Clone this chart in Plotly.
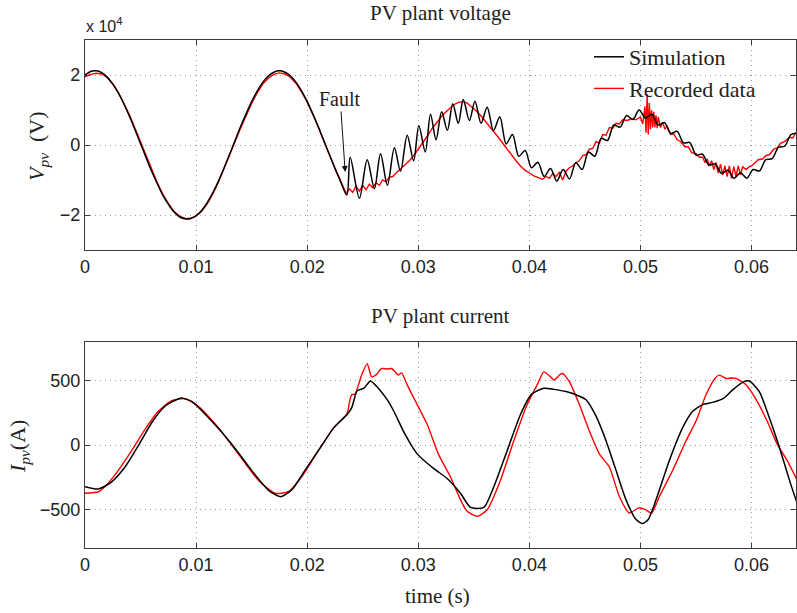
import plotly.graph_objects as go

# ---------------- DATA ----------------
# PV plant voltage (values in units of 1e4 V, as shown on the axis)
v_sim_t = [
    0.0, 0.0005, 0.001, 0.0015, 0.002, 0.0025, 0.003, 0.0035, 0.004, 0.0045,
    0.005, 0.0055, 0.006, 0.0065, 0.007, 0.0075, 0.008, 0.0085, 0.009, 0.0095,
    0.010, 0.0105, 0.011, 0.0115, 0.012, 0.0125, 0.013, 0.0135, 0.014, 0.0145,
    0.015, 0.0155, 0.016, 0.0165, 0.017, 0.0175, 0.018, 0.0185, 0.019, 0.0195,
    0.020, 0.0205, 0.021, 0.0215, 0.022, 0.0225, 0.023,
    0.02357, 0.02387, 0.02470, 0.02540, 0.02605, 0.02660, 0.02722, 0.02785, 0.02840, 0.02900,
    0.02958, 0.03005, 0.03063, 0.03110, 0.03160, 0.03210, 0.03262, 0.03310, 0.03360, 0.03405,
    0.03460, 0.03510, 0.03565, 0.03620, 0.03677, 0.03734, 0.03791, 0.03848, 0.03905, 0.03962,
    0.04019, 0.04076, 0.04133, 0.04190, 0.04247, 0.04304, 0.04361, 0.04418, 0.04475, 0.04532,
    0.04589, 0.04646, 0.04703, 0.04760, 0.04817, 0.04874, 0.04931, 0.04988, 0.05045, 0.05102,
    0.05159, 0.05216, 0.05273, 0.05330, 0.05387, 0.05444, 0.05501, 0.05558, 0.05615, 0.05672,
    0.05729, 0.05786, 0.05843, 0.05900, 0.05957, 0.06014, 0.06071, 0.06128, 0.06185, 0.06242,
    0.06299, 0.06356, 0.06413,
]
v_sim = [
    2.00, 2.10, 2.12, 2.07, 1.94, 1.74, 1.49, 1.18, 0.82, 0.44,
    0.04, -0.36, -0.75, -1.10, -1.43, -1.69, -1.91, -2.05, -2.11, -2.10,
    -2.02, -1.87, -1.65, -1.37, -1.04, -0.67, -0.28, 0.12, 0.52, 0.89,
    1.24, 1.54, 1.79, 1.97, 2.08, 2.12, 2.08, 1.97, 1.79, 1.54,
    1.24, 0.89, 0.52, 0.12, -0.28, -0.67, -1.04,
    -1.43, -0.35, -1.52, -0.42, -1.25, -0.25, -1.15, -0.08, -0.75, 0.28,
    -0.45, 0.55, -0.20, 0.88, 0.15, 0.95, 0.42, 1.18, 0.62, 1.30,
    0.70, 1.25, 0.62, 1.08, 0.41, 0.81, 0.03, 0.30, -0.32, -0.16,
    -0.65, -0.49, -0.90, -0.67, -1.03, -0.70, -0.97, -0.51, -0.70, -0.20,
    -0.32, 0.19, 0.13, 0.57, 0.51, 0.84, 0.73, 1.00, 0.77, 0.88,
    0.57, 0.64, 0.33, 0.39, 0.06, 0.07, -0.29, -0.26, -0.57, -0.54,
    -0.81, -0.72, -0.95, -0.79, -0.95, -0.70, -0.74, -0.42, -0.39, -0.07,
    -0.03, 0.30, 0.34,
]

v_rec_t = [
    0.0, 0.0005, 0.001, 0.0015, 0.002, 0.0025, 0.003, 0.0035, 0.004, 0.0045,
    0.005, 0.0055, 0.006, 0.0065, 0.007, 0.0075, 0.008, 0.0085, 0.009, 0.0095,
    0.010, 0.0105, 0.011, 0.0115, 0.012, 0.0125, 0.013, 0.0135, 0.014, 0.0145,
    0.015, 0.0155, 0.016, 0.0165, 0.017, 0.0175, 0.018, 0.0185, 0.019, 0.0195,
    0.020, 0.0205, 0.021, 0.0215, 0.022, 0.0225, 0.023, 0.0235,
    0.0238, 0.0241, 0.0244, 0.0247, 0.0250, 0.0253, 0.0256, 0.0259, 0.0262, 0.0265,
    0.0268, 0.0271, 0.0274, 0.0277, 0.0280, 0.0284, 0.0288, 0.0292, 0.0296, 0.0300,
    0.0304, 0.0308, 0.0312, 0.0316, 0.0320, 0.0324, 0.0328, 0.0332, 0.0336, 0.0340,
    0.0344, 0.0348, 0.0352, 0.0356, 0.0360, 0.0364, 0.0368, 0.0372, 0.0376, 0.0380,
    0.0384, 0.0388, 0.0392, 0.0396, 0.0400, 0.0404, 0.0408, 0.0412, 0.0415, 0.0418,
    0.0421, 0.0424, 0.0427, 0.0430, 0.0433, 0.0436, 0.0439, 0.0442, 0.0445, 0.0448,
    0.0451, 0.0454, 0.0457, 0.0460, 0.0463, 0.0466, 0.0469, 0.0472, 0.0475, 0.0478,
    0.0481, 0.0484, 0.0488, 0.0492, 0.0496, 0.0500, 0.0502, 0.0504, 0.0505, 0.0506,
    0.0507, 0.0508, 0.0509, 0.0510, 0.0511, 0.0512, 0.0513, 0.0514, 0.0515, 0.0516,
    0.0518, 0.0520, 0.0522, 0.0524, 0.0527, 0.0530, 0.0533, 0.0536, 0.0540, 0.0543,
    0.0546, 0.0550, 0.0553, 0.0556, 0.0558, 0.0560, 0.0562, 0.0564, 0.0566, 0.0568,
    0.0570, 0.0572, 0.0574, 0.0576, 0.0578, 0.0580, 0.0582, 0.0584, 0.0586, 0.0588,
    0.0590, 0.0592, 0.0595, 0.0598, 0.0600, 0.0603, 0.0606, 0.0610, 0.0613, 0.0616,
    0.0620, 0.0623, 0.0626, 0.0630, 0.0634, 0.0637, 0.0640,
]
v_rec = [
    1.95, 2.02, 2.05, 2.03, 1.93, 1.75, 1.50, 1.20, 0.86, 0.48,
    0.08, -0.32, -0.71, -1.07, -1.40, -1.67, -1.89, -2.03, -2.10, -2.10,
    -2.03, -1.89, -1.68, -1.40, -1.07, -0.70, -0.31, 0.09, 0.48, 0.85,
    1.19, 1.49, 1.74, 1.91, 2.02, 2.06, 2.03, 1.93, 1.76, 1.52,
    1.23, 0.89, 0.52, 0.13, -0.27, -0.66, -1.03, -1.38,
    -1.25, -1.35, -1.18, -1.32, -1.15, -1.28, -1.12, -1.22, -1.08, -1.15,
    -1.00, -1.05, -0.92, -0.90, -0.80, -0.69, -0.58, -0.45, -0.30, -0.12,
    0.05, 0.25, 0.45, 0.62, 0.78, 0.92, 1.05, 1.15, 1.22, 1.24,
    1.20, 1.10, 0.98, 0.85, 0.70, 0.55, 0.40, 0.22, 0.05, -0.12,
    -0.30, -0.45, -0.60, -0.72, -0.80, -0.88, -0.93, -0.98, -0.90, -0.95,
    -0.82, -0.90, -0.78, -1.00, -0.75, -0.65, -0.60, -0.50, -0.45, -0.30,
    -0.28, -0.12, -0.10, 0.10, 0.05, 0.30, 0.28, 0.50, 0.48, 0.62,
    0.60, 0.72, 0.70, 0.75, 0.72, 0.80, 0.60, 1.10, 0.35, 1.45,
    0.30, 1.20, 0.45, 1.00, 0.50, 0.95, 0.50, 0.85, 0.48, 0.80,
    0.50, 0.65, 0.45, 0.55, 0.30, 0.32, 0.15, 0.10, -0.05, -0.05,
    -0.22, -0.25, -0.35, -0.35, -0.50, -0.40, -0.60, -0.45, -0.70, -0.50,
    -0.80, -0.55, -0.85, -0.60, -0.90, -0.60, -0.95, -0.62, -0.90, -0.60,
    -0.85, -0.62, -0.70, -0.62, -0.60, -0.50, -0.42, -0.40, -0.30, -0.28,
    -0.12, -0.08, 0.05, 0.10, 0.22, 0.20, 0.35,
]

# PV plant current (A)
i_sim_t = [
    0.0, 0.0012, 0.0024, 0.0036, 0.0048, 0.0060, 0.0072, 0.0086, 0.0096, 0.0114,
    0.0132, 0.0150, 0.0165, 0.0176, 0.0186, 0.0198, 0.0212, 0.0224, 0.0236, 0.0240,
    0.0245, 0.0251, 0.0257, 0.0264, 0.0272, 0.0278, 0.0288, 0.0299, 0.0314, 0.0326,
    0.0338, 0.0347, 0.0359, 0.0368, 0.0380, 0.0392, 0.0402, 0.0413, 0.0422, 0.0433,
    0.0442, 0.0451, 0.0460, 0.0469, 0.0478, 0.0487, 0.0496, 0.0502, 0.0507, 0.0514,
    0.0526, 0.0538, 0.0547, 0.0556, 0.0565, 0.0575, 0.0583, 0.0593, 0.0598, 0.0607,
    0.0616, 0.0626, 0.0635, 0.0641,
]
i_sim = [
    -324, -342, -286, -171, -5, 173, 301, 364, 339, 186,
    8, -197, -350, -401, -350, -197, -18, 135, 237, 288,
    421, 441, 497, 441, 352, 262, 84, -69, -184, -260,
    -375, -485, -485, -324, -44, 237, 395, 441, 432, 415,
    390, 352, 224, 33, -197, -426, -579, -610, -579, -426,
    -120, 135, 262, 314, 331, 364, 428, 492, 497, 415,
    211, -44, -298, -451,
]

i_rec_t = [
    0.0, 0.0012, 0.0018, 0.0030, 0.0042, 0.0054, 0.0066, 0.0078, 0.0090, 0.0102,
    0.0120, 0.0138, 0.0156, 0.0171, 0.0183, 0.0195, 0.0210, 0.0224, 0.0236, 0.0238,
    0.0240, 0.0243, 0.0249, 0.0254, 0.0258, 0.0262, 0.0267, 0.0272, 0.0276, 0.0279,
    0.0282, 0.0285, 0.0290, 0.0299, 0.0308, 0.0318, 0.0329, 0.0338, 0.0344, 0.0353,
    0.0362, 0.0374, 0.0386, 0.0398, 0.0407, 0.0413, 0.0419, 0.0422, 0.0428, 0.0430,
    0.0436, 0.0445, 0.0454, 0.0463, 0.0472, 0.0481, 0.0490, 0.0498, 0.0504, 0.0510,
    0.0517, 0.0529, 0.0541, 0.0550, 0.0559, 0.0567, 0.0571, 0.0577, 0.0582, 0.0586,
    0.0595, 0.0605, 0.0614, 0.0623, 0.0632, 0.0641,
]
i_rec = [
    -375, -363, -324, -197, -44, 122, 262, 344, 359, 301,
    135, -69, -273, -375, -363, -248, -44, 135, 245, 330,
    390, 395, 543, 632, 530, 545, 594, 590, 594, 570,
    543, 560, 467, 314, 161, -69, -248, -426, -515, -554,
    -503, -273, 33, 314, 467, 568, 530, 505, 550, 555,
    492, 314, 109, -69, -171, -400, -528, -490, -500, -528,
    -400, -197, 33, 186, 390, 517, 543, 517, 520, 517,
    467, 339, 186, 8, -120, -273,
]

x_ticks = [0, 0.01, 0.02, 0.03, 0.04, 0.05, 0.06]
x_ticktext = ["0", "0.01", "0.02", "0.03", "0.04", "0.05", "0.06"]
v_ticks = [-2, 0, 2]
v_ticktext = ["\u22122", "0", "2"]
i_ticks = [-500, 0, 500]
i_ticktext = ["\u2212500", "0", "500"]

# ---------------- FIGURE ----------------
W, H = 797, 613
L, R, T, B = 85, 796, 40, 548


def xp(px):
    return (px - L) / (R - L)


def yp(py):
    return (B - py) / (B - T)


SERIF = "Liberation Serif, Times New Roman, serif"
SANS = "Liberation Sans, Arial, sans-serif"

fig = go.Figure()
fig.add_trace(go.Scatter(x=v_rec_t, y=v_rec, mode="lines", name="Recorded data",
                         line=dict(color="#ff0000", width=1.4), legendrank=2,
                         xaxis="x", yaxis="y"))
fig.add_trace(go.Scatter(x=v_sim_t, y=v_sim, mode="lines", name="Simulation",
                         line=dict(color="#000000", width=1.5, shape="spline", smoothing=0.9),
                         legendrank=1, xaxis="x", yaxis="y"))
fig.add_trace(go.Scatter(x=i_rec_t, y=i_rec, mode="lines", name="Recorded data",
                         line=dict(color="#ff0000", width=1.4, shape="spline", smoothing=0.6),
                         showlegend=False, xaxis="x2", yaxis="y2"))
fig.add_trace(go.Scatter(x=i_sim_t, y=i_sim, mode="lines", name="Simulation",
                         line=dict(color="#000000", width=1.5, shape="spline", smoothing=0.6),
                         showlegend=False, xaxis="x2", yaxis="y2"))

top_frac = yp(250)
bot_frac = yp(342)

axis_common = dict(
    showline=True, mirror="ticks", linecolor="#3c3c3c", linewidth=1.3,
    ticks="inside", ticklen=5, tickcolor="#3c3c3c", tickwidth=1,
    showgrid=True, gridcolor="#9a9a9a", griddash="1px,4px", gridwidth=1,
    zeroline=False, tickfont=dict(family=SANS, size=18, color="#222222"),
)

fig.update_layout(
    width=W, height=H,
    margin=dict(l=L, r=W - R, t=T, b=H - B),
    paper_bgcolor="white", plot_bgcolor="white",
    xaxis=dict(domain=[0, 1], range=[0, 0.064], tickvals=x_ticks, ticktext=x_ticktext,
               anchor="y", **axis_common),
    yaxis=dict(domain=[top_frac, 1], range=[-3, 3], tickvals=v_ticks, ticktext=v_ticktext,
               anchor="x", **axis_common),
    xaxis2=dict(domain=[0, 1], range=[0, 0.064], tickvals=x_ticks, ticktext=x_ticktext,
                anchor="y2", **axis_common),
    yaxis2=dict(domain=[0, bot_frac], range=[-800, 800], tickvals=i_ticks, ticktext=i_ticktext,
                anchor="x2", **axis_common),
    legend=dict(x=xp(589), y=yp(36), xanchor="left", yanchor="top",
                bgcolor="rgba(0,0,0,0)", borderwidth=0, itemwidth=30,
                font=dict(family=SERIF, size=22, color="#222222"), tracegroupgap=0),
    showlegend=True,
)

ann = [
    dict(text="PV plant voltage", x=xp(440), y=yp(13), font=dict(family=SERIF, size=21, color="#222")),
    dict(text="PV plant current", x=xp(440), y=yp(316), font=dict(family=SERIF, size=21, color="#222")),
    dict(text="time (s)", x=xp(437), y=yp(596), font=dict(family=SERIF, size=21, color="#222")),
    dict(text="x 10<sup>4</sup>", x=xp(84), y=yp(25), xanchor="left",
         font=dict(family=SANS, size=16, color="#222")),
    dict(text="<i>V<sub>pv</sub></i>  (V)", x=xp(38), y=yp(146), textangle=-90,
         font=dict(family=SERIF, size=22, color="#222")),
    dict(text="<i>I<sub>pv</sub></i>(A)", x=xp(19), y=yp(447), textangle=-90,
         font=dict(family=SERIF, size=22, color="#222")),
]
for a in ann:
    a.update(xref="paper", yref="paper", showarrow=False)
    a.setdefault("xanchor", "center")
    a.setdefault("yanchor", "middle")
fig.update_layout(annotations=ann)

fig.add_annotation(x=0.02342, y=-0.77, xref="x", yref="y", ax=-5, ay=-73,
                   text="Fault", showarrow=True, arrowhead=2, arrowsize=1.2, arrowwidth=1,
                   arrowcolor="#111", font=dict(family=SERIF, size=20, color="#222"))

fig.write_html("out.html")
